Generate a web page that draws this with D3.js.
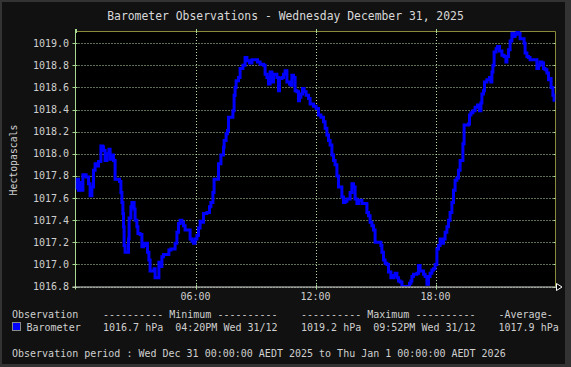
<!DOCTYPE html>
<html>
<head>
<meta charset="utf-8">
<script src="https://cdn.jsdelivr.net/npm/d3@7"></script>
<style>
  html, body { margin: 0; padding: 0; background: #111111; }
  svg { display: block; }
  text { font-family: "DejaVu Sans Mono", monospace; fill: #cfcfcf; }
</style>
</head>
<body>
<svg id="chart" width="571" height="367"></svg>
<script>
// ---- data ----
const title = "Barometer Observations - Wednesday December 31, 2025";
const yAxisTitle = "Hectopascals";
const hours = [
  0.00,0.07,0.15,0.23,0.28,0.37,0.53,0.65,0.73,0.82,0.90,0.98,1.07,1.15,1.27,1.37,1.40,1.48,1.57,1.67,1.73,1.82,1.90,1.98,
  2.15,2.20,2.27,2.32,2.37,2.40,2.43,2.48,2.60,2.65,2.68,2.77,2.82,2.87,2.93,2.98,3.07,3.12,3.23,3.32,3.40,3.48,3.53,3.60,
  3.67,3.73,3.87,3.93,3.98,4.10,4.17,4.23,4.32,4.40,4.60,4.67,4.77,4.87,4.98,5.07,5.15,5.23,5.32,5.40,5.48,5.60,5.73,5.82,
  5.90,5.98,6.07,6.15,6.23,6.32,6.40,6.57,6.70,6.77,6.87,6.93,7.10,7.15,7.27,7.40,7.43,7.53,7.60,7.65,7.87,7.93,7.98,8.03,
  8.15,8.23,8.37,8.48,8.57,8.70,8.82,9.03,9.10,9.23,9.40,9.48,9.57,9.65,9.73,9.82,9.90,10.07,10.15,10.20,10.32,10.40,10.48,
  10.57,10.70,10.77,10.82,10.90,10.98,11.07,11.15,11.20,11.27,11.35,11.43,11.53,11.65,11.73,11.90,12.03,12.15,12.27,12.40,
  12.48,12.57,12.65,12.73,12.82,12.90,12.98,13.07,13.15,13.23,13.32,13.40,13.48,13.57,13.65,13.73,13.82,13.90,13.98,14.07,
  14.15,14.23,14.32,14.48,14.57,14.65,14.73,14.82,14.90,14.98,15.20,15.27,15.32,15.40,15.48,15.57,15.65,15.77,15.90,15.98,
  16.07,16.15,16.23,16.32,16.65,16.70,16.77,16.82,16.90,17.07,17.15,17.23,17.40,17.48,17.57,17.65,17.73,17.82,17.90,17.98,
  18.07,18.15,18.23,18.32,18.40,18.48,18.57,18.65,18.73,18.82,18.90,18.98,19.07,19.15,19.23,19.37,19.43,19.65,19.70,19.77,
  19.87,19.98,20.10,20.20,20.27,20.32,20.40,20.45,20.57,20.70,20.77,20.82,20.87,20.93,21.03,21.10,21.20,21.32,21.43,21.52,
  21.57,21.65,21.73,21.82,21.90,21.98,22.07,22.15,22.23,22.37,22.43,22.48,22.57,22.65,22.73,22.98,23.07,23.15,23.23,23.32,
  23.40,23.48,23.57,23.65,23.73,23.78,23.87,23.93
];
const pressure = [
  1017.69,1017.77,1017.67,1017.74,1017.67,1017.81,1017.79,1017.73,1017.62,1017.70,1017.85,1017.91,1017.89,1017.93,1018.07,1018.06,1018.03,1017.94,1018.00,1018.04,1017.95,1017.99,1017.94,1017.77,
  1017.77,1017.75,1017.65,1017.56,1017.46,1017.34,1017.17,1017.11,1017.11,1017.23,1017.42,1017.52,1017.56,1017.56,1017.50,1017.40,1017.34,1017.28,1017.27,1017.16,1017.19,1017.17,1017.19,1017.11,
  1017.04,1016.94,1016.94,1016.96,1016.88,1016.88,1017.02,1016.98,1017.07,1017.09,1017.09,1017.13,1017.14,1017.14,1017.19,1017.29,1017.37,1017.40,1017.38,1017.35,1017.31,1017.31,1017.23,1017.21,
  1017.19,1017.23,1017.26,1017.33,1017.39,1017.38,1017.46,1017.47,1017.52,1017.56,1017.65,1017.77,1017.77,1017.91,1017.99,1018.06,1018.12,1018.18,1018.21,1018.33,1018.39,1018.53,1018.60,1018.66,
  1018.69,1018.77,1018.80,1018.87,1018.84,1018.82,1018.85,1018.85,1018.83,1018.81,1018.80,1018.72,1018.69,1018.63,1018.74,1018.65,1018.72,1018.69,1018.57,1018.68,1018.69,1018.72,1018.75,
  1018.65,1018.63,1018.62,1018.71,1018.69,1018.57,1018.56,1018.48,1018.51,1018.54,1018.59,1018.56,1018.53,1018.50,1018.45,1018.43,1018.41,1018.35,1018.33,1018.29,
  1018.23,1018.17,1018.12,1018.08,1017.99,1017.94,1017.90,1017.80,1017.70,1017.70,1017.61,1017.56,1017.57,1017.59,1017.59,1017.65,1017.73,1017.70,1017.59,1017.55,
  1017.58,1017.58,1017.55,1017.55,1017.47,1017.44,1017.38,1017.35,1017.31,1017.20,1017.20,1017.17,1017.11,1017.04,1017.01,1017.00,1016.93,1016.88,1016.90,1016.92,
  1016.88,1016.85,1016.84,1016.80,1016.80,1016.83,1016.85,1016.89,1016.91,1016.92,1016.99,1016.94,1016.91,1016.89,1016.82,1016.89,1016.92,1016.95,1016.96,1017.00,
  1017.14,1017.17,1017.23,1017.19,1017.23,1017.29,1017.34,1017.40,1017.47,1017.56,1017.67,1017.76,1017.78,1017.85,1017.94,1018.09,1018.26,1018.27,1018.35,1018.37,
  1018.39,1018.42,1018.44,1018.39,1018.46,1018.54,1018.57,1018.65,1018.67,1018.69,1018.65,1018.74,1018.80,1018.92,1018.95,1018.97,1018.93,1018.89,1018.88,1018.83,
  1018.88,1018.94,1019.02,1019.09,1019.06,1019.08,1019.11,1019.09,1019.04,1019.04,1019.00,1018.91,1018.88,1018.87,1018.85,1018.85,1018.77,1018.80,1018.83,1018.82,
  1018.77,1018.76,1018.73,1018.67,1018.68,1018.60,1018.53,1018.47
];
const yTicks = [1016.8, 1017.0, 1017.2, 1017.4, 1017.6, 1017.8, 1018.0, 1018.2, 1018.4, 1018.6, 1018.8, 1019.0];
const xTicks = [6, 12, 18];
const xTickLabels = ["06:00", "12:00", "18:00"];
const legendHeader = ["Observation", "---------- Minimum ----------", "---------- Maximum ----------", "-Average-"];
const legendRow = ["Barometer", "1016.7 hPa  04:20PM Wed 31/12", "1019.2 hPa  09:52PM Wed 31/12", "1017.9 hPa"];
const periodText = "Observation period : Wed Dec 31 00:00:00 AEDT 2025 to Thu Jan 1 00:00:00 AEDT 2026";

// ---- layout ----
const W = 571, H = 367;
const L = 75.5, R = 555.5, T = 31, B = 286.5;
const svg = d3.select("#chart");

// background + frame
svg.append("rect").attr("x", 0).attr("y", 0).attr("width", W).attr("height", H).attr("fill", "#333333");
svg.append("rect").attr("x", 2).attr("y", 2).attr("width", W - 8).attr("height", H - 5).attr("fill", "#111111");

const x = d3.scaleLinear().domain([0, 24]).range([L, R]);
const y = d3.scaleLinear().domain([1016.8, 1019.11]).range([B, T]);

// plot area
svg.append("rect").attr("x", L).attr("y", T).attr("width", R - L).attr("height", B - T).attr("fill", "#000000");

const gridColor = "#b8dca8";
// horizontal grid
svg.append("g").selectAll("line").data(yTicks).join("line")
  .attr("x1", L).attr("x2", R)
  .attr("y1", d => Math.round(y(d)) + 0.5).attr("y2", d => Math.round(y(d)) + 0.5)
  .attr("stroke", gridColor).attr("stroke-width", 1).attr("stroke-dasharray", "1,2");
// vertical grid
svg.append("g").selectAll("line").data(xTicks).join("line")
  .attr("x1", d => Math.round(x(d)) + 0.5).attr("x2", d => Math.round(x(d)) + 0.5)
  .attr("y1", T).attr("y2", B)
  .attr("stroke", gridColor).attr("stroke-width", 1).attr("stroke-dasharray", "1,2");

// frame top & right
svg.append("path")
  .attr("d", `M${L},${T + 0.5}H${R}V${B}`)
  .attr("fill", "none").attr("stroke", "#8a8a3c").attr("stroke-width", 1);

// y tick marks (left and right)
const tickColor = "#a8d890";
svg.append("g").selectAll("line").data(yTicks).join("line")
  .attr("x1", L - 3).attr("x2", L + 2)
  .attr("y1", d => Math.round(y(d)) + 0.5).attr("y2", d => Math.round(y(d)) + 0.5)
  .attr("stroke", tickColor);
svg.append("g").selectAll("line").data(yTicks).join("line")
  .attr("x1", R - 2).attr("x2", R)
  .attr("y1", d => Math.round(y(d)) + 0.5).attr("y2", d => Math.round(y(d)) + 0.5)
  .attr("stroke", tickColor);
// x tick marks (top and bottom)
svg.append("g").selectAll("line").data([0].concat(xTicks)).join("line")
  .attr("x1", d => Math.round(x(d)) + 0.5).attr("x2", d => Math.round(x(d)) + 0.5)
  .attr("y1", T - 2).attr("y2", T + 2).attr("stroke", tickColor);
svg.append("g").selectAll("line").data(xTicks).join("line")
  .attr("x1", d => Math.round(x(d)) + 0.5).attr("x2", d => Math.round(x(d)) + 0.5)
  .attr("y1", B - 2).attr("y2", B + 3).attr("stroke", tickColor);

// y axis line
svg.append("line").attr("x1", L).attr("x2", L).attr("y1", T - 2).attr("y2", B + 3)
  .attr("stroke", tickColor).attr("stroke-width", 1);

// data line
const clipId = "plotclip";
svg.append("clipPath").attr("id", clipId).append("rect")
  .attr("x", L).attr("y", T).attr("width", R - L).attr("height", B - T);
const pts = hours.map((h, i) => [h, pressure[i]]);
const line = d3.line().x(d => x(d[0])).y(d => y(d[1])).curve(d3.curveStepAfter);
svg.append("path").datum(pts)
  .attr("clip-path", `url(#${clipId})`)
  .attr("d", line)
  .attr("fill", "none").attr("stroke", "#0000ff").attr("stroke-width", 3)
  .attr("stroke-linejoin", "miter");

// x axis line + arrow
svg.append("line").attr("x1", L - 3).attr("x2", R + 1).attr("y1", B + 0.5).attr("y2", B + 0.5)
  .attr("stroke", "#d0d0d0").attr("stroke-width", 1);
svg.append("path")
  .attr("d", `M${R + 1},${B - 3}L${R + 6.5},${B + 0.5}L${R + 1},${B + 4}Z`)
  .attr("fill", "#000").attr("stroke", "#ffffff").attr("stroke-width", 1);

// y tick labels
svg.append("g").selectAll("text").data(yTicks).join("text")
  .attr("x", 69).attr("y", d => y(d) + 3.5)
  .attr("text-anchor", "end").attr("font-size", "10px")
  .text(d => d3.format(".1f")(d));

// x tick labels
svg.append("g").selectAll("text").data(xTicks).join("text")
  .attr("x", d => x(d)).attr("y", 299.5)
  .attr("text-anchor", "middle").attr("font-size", "10px")
  .text((d, i) => xTickLabels[i]);

// title
svg.append("text").attr("x", 285.5).attr("y", 20)
  .attr("text-anchor", "middle").attr("font-size", "11.4px").style("fill", "#d8d8d8")
  .text(title);

// y axis title
svg.append("text")
  .attr("transform", "translate(16.5,160) rotate(-90)")
  .attr("text-anchor", "middle").attr("font-size", "9.8px")
  .text(yAxisTitle);

// legend
const colX = [12, 103, 301, 498.5];
svg.append("g").selectAll("text").data(legendHeader).join("text")
  .attr("x", (d, i) => colX[i]).attr("y", 318)
  .attr("font-size", "10px").attr("xml:space", "preserve").style("white-space", "pre")
  .text(d => d);
svg.append("rect").attr("x", 12.5).attr("y", 322.5).attr("width", 8).attr("height", 8)
  .attr("fill", "#0000ff").attr("stroke", "#8a8a8a").attr("stroke-width", 1);
svg.append("g").selectAll("text").data(legendRow).join("text")
  .attr("x", (d, i) => i === 0 ? 26.5 : colX[i]).attr("y", 330.5)
  .attr("font-size", "10px").attr("xml:space", "preserve").style("white-space", "pre")
  .text(d => d);
svg.append("text").attr("x", 12).attr("y", 356.5)
  .attr("font-size", "10px").attr("xml:space", "preserve").style("white-space", "pre")
  .text(periodText);
</script>
</body>
</html>
